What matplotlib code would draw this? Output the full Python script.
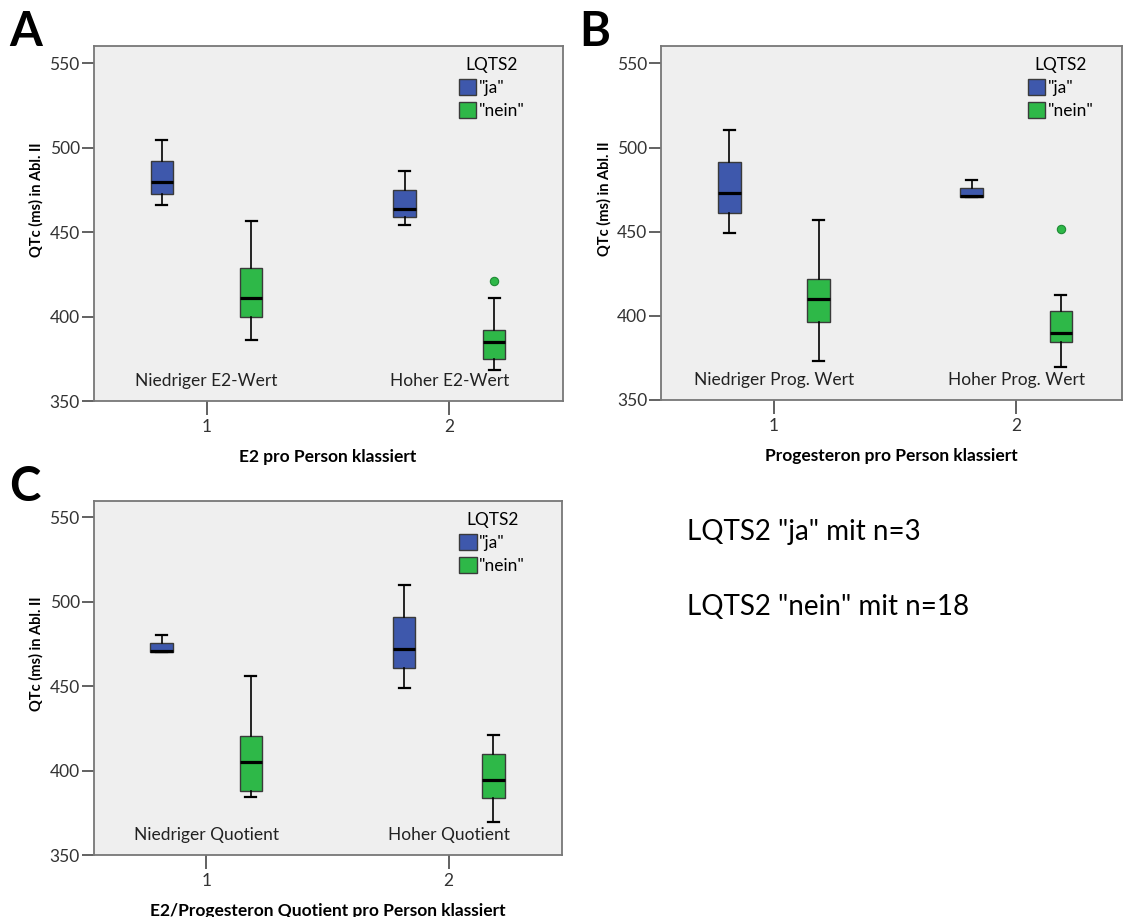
import matplotlib
matplotlib.use("Agg")
import matplotlib.pyplot as plt
from matplotlib.patches import Patch

plt.rcParams['font.family'] = ['Lato', 'DejaVu Sans']

# box stats per group: [whislo, q1, median, q3, whishi]
groups = [1, 2]
A_ja = [[465.9, 472.6, 479.5, 491.9, 504.3], [454.0, 459.0, 463.9, 474.9, 486.4]]
A_nein = [[386.1, 399.9, 411.1, 429.0, 456.8], [368.3, 375.0, 384.9, 392.0, 410.7]]
A_nein_out = [[], [420.9]]
A_cats = ['Niedriger E2-Wert', 'Hoher E2-Wert']

B_ja = [[449.4, 460.9, 472.8, 491.4, 510.2], [470.8, 470.8, 471.2, 475.7, 480.7]]
B_nein = [[373.2, 396.4, 410.2, 421.7, 456.7], [369.4, 384.7, 389.6, 402.9, 412.4]]
B_nein_out = [[], [451.8]]
B_cats = ['Niedriger Prog. Wert', 'Hoher Prog. Wert']

C_ja = [[470.2, 470.2, 470.8, 475.6, 480.3], [449.1, 460.6, 472.2, 491.0, 509.7]]
C_nein = [[384.5, 388.1, 404.9, 420.7, 456.2], [369.3, 384.0, 394.2, 410.0, 420.9]]
C_nein_out = [[], []]
C_cats = ['Niedriger Quotient', 'Hoher Quotient']

yticks = [350, 400, 450, 500, 550]
blue = '#3e58ac'
green = '#2eb848'
edge = '#3a3a3a'
bg = '#efefef'


def to_stats(rows, outs=None):
    res = []
    for i, r in enumerate(rows):
        res.append(dict(whislo=r[0], q1=r[1], med=r[2], q3=r[3], whishi=r[4],
                        fliers=outs[i] if outs else []))
    return res


def panel(ax, ja, nein, nein_out, cats, xlabel, xlim, ylim_top, leg_x):
    off = 0.184
    for stats, pos, col in [(to_stats(ja), [g - off for g in groups], blue),
                            (to_stats(nein, nein_out), [g + off for g in groups], green)]:
        ax.bxp(stats, positions=pos, widths=0.093, capwidths=0.045, patch_artist=True,
               boxprops=dict(facecolor=col, edgecolor=edge, linewidth=1.0),
               medianprops=dict(color='black', linewidth=2.3),
               whiskerprops=dict(color='black', linewidth=1.2),
               capprops=dict(color='black', linewidth=1.6),
               flierprops=dict(marker='o', markerfacecolor=col, markeredgecolor='#1f8a35',
                               markersize=6, markeredgewidth=0.8),
               manage_ticks=False, zorder=3)
    for g, c in zip(groups, cats):
        ax.text(g, 362, c, ha='center', va='center', fontsize=12.5, color='#222222')
    ax.set_facecolor(bg)
    ax.set_xlim(*xlim)
    ax.set_ylim(350, ylim_top)
    ax.set_yticks(yticks)
    ax.set_xticks(groups)
    ax.tick_params(axis='both', direction='out', length=9, width=1.3, color='#555555',
                   labelsize=12.5, labelcolor='#333333', pad=1)
    ax.tick_params(axis='x', length=10, pad=3)
    for s in ax.spines.values():
        s.set_color('#777777')
        s.set_linewidth(1.3)
    ax.set_ylabel('QTc (ms) in Abl. II', fontsize=10.5, fontweight='bold')
    ax.yaxis.set_label_coords(-0.107, 0.567)
    ax.set_xlabel(xlabel, fontsize=12.5, fontweight='bold', labelpad=10)
    handles = [Patch(facecolor=blue, edgecolor=edge, label='"ja"'),
               Patch(facecolor=green, edgecolor=edge, label='"nein"')]
    ax.legend(handles=handles, title='LQTS2', loc='upper left', bbox_to_anchor=(leg_x, 0.992),
              frameon=False, fontsize=12.5, title_fontsize=12.5, handlelength=1.0,
              handleheight=1.0, handletextpad=0.15, labelspacing=0.35, borderpad=0)


fig = plt.figure(figsize=(11.23, 9.17), dpi=100)
axA = fig.add_axes([0.0833, 0.5627, 0.4177, 0.3875])
axB = fig.add_axes([0.5886, 0.5638, 0.4102, 0.3864])
axC = fig.add_axes([0.0833, 0.0676, 0.4168, 0.3864])

panel(axA, A_ja, A_nein, A_nein_out, A_cats, 'E2 pro Person klassiert',
      (0.535, 2.466), 560.4, 0.760)
panel(axB, B_ja, B_nein, B_nein_out, B_cats, 'Progesteron pro Person klassiert',
      (0.534, 2.435), 560.5, 0.778)
panel(axC, C_ja, C_nein, C_nein_out, C_cats, 'E2/Progesteron Quotient pro Person klassiert',
      (0.535, 2.466), 559.8, 0.763)

fig.text(0.008, 0.989, 'A', fontsize=34, fontweight='bold', va='top', ha='left')
fig.text(0.516, 0.989, 'B', fontsize=34, fontweight='bold', va='top', ha='left')
fig.text(0.008, 0.493, 'C', fontsize=34, fontweight='bold', va='top', ha='left')

fig.text(0.612, 0.411, 'LQTS2 "ja" mit n=3', fontsize=20, va='baseline', ha='left')
fig.text(0.612, 0.329, 'LQTS2 "nein" mit n=18', fontsize=20, va='baseline', ha='left')

fig.savefig('out.png', dpi=100)
